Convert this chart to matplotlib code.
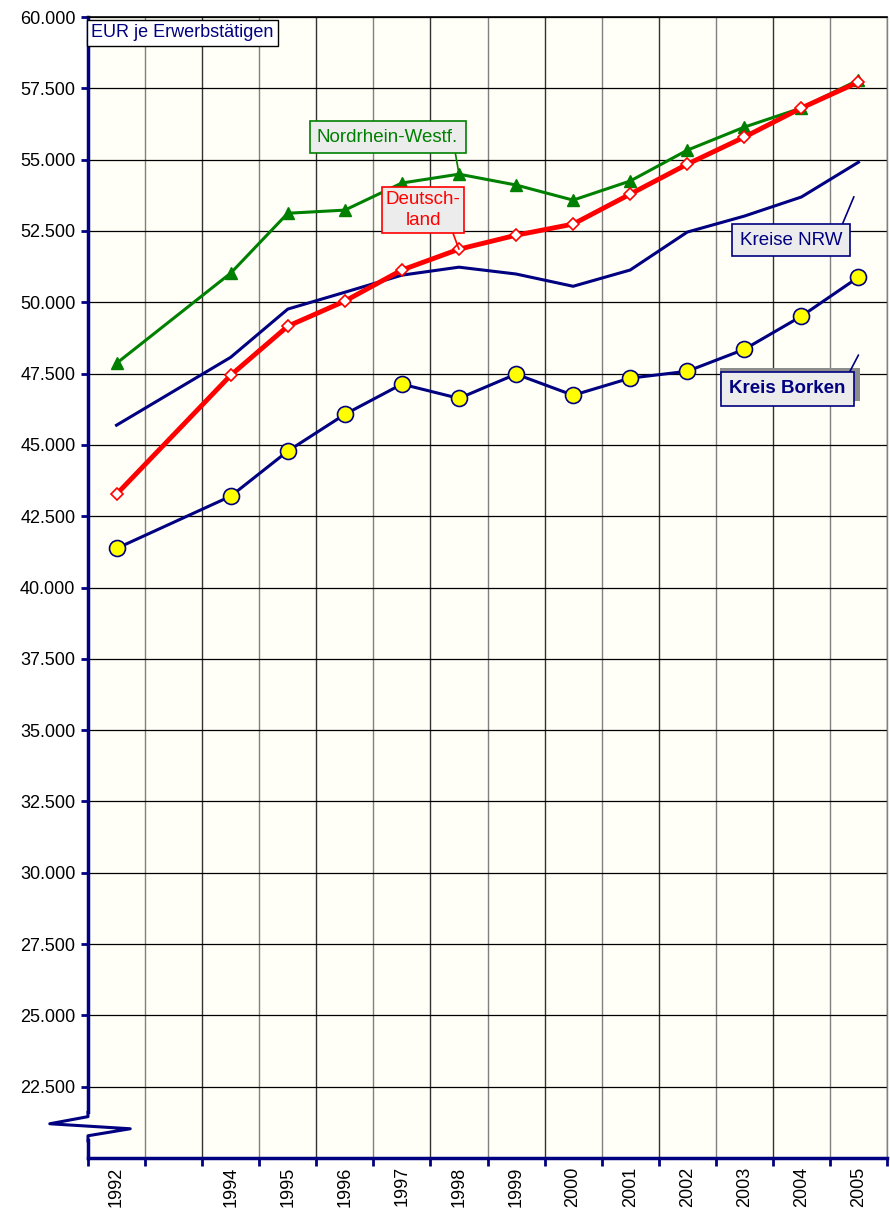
import matplotlib
matplotlib.use("Agg")
import matplotlib.pyplot as plt
from matplotlib.lines import Line2D
from matplotlib.patches import Rectangle

plt.rcParams['font.family'] = ['Liberation Sans', 'DejaVu Sans']

years = [1992, 1994, 1995, 1996, 1997, 1998, 1999, 2000, 2001, 2002, 2003, 2004, 2005]
nrw = [47860, 51020, 53120, 53230, 54180, 54490, 54110, 53580, 54250, 55330, 56140, 56810, 57790]
deutschland = [43270, 47440, 49160, 50040, 51130, 51860, 52350, 52740, 53790, 54840, 55790, 56810, 57720]
kreise_nrw = [45690, 48070, 49760, 50350, 50950, 51230, 50990, 50560, 51130, 52460, 53020, 53690, 54910]
borken = [41370, 43200, 44780, 46070, 47130, 46630, 47480, 46740, 47340, 47580, 48350, 49510, 50880]
y_ticks = [22500, 25000, 27500, 30000, 32500, 35000, 37500, 40000, 42500, 45000, 47500, 50000, 52500, 55000, 57500, 60000]
tick_years = [1992, 1994, 1995, 1996, 1997, 1998, 1999, 2000, 2001, 2002, 2003, 2004, 2005]

W, H = 890, 1213
fig = plt.figure(figsize=(W/100, H/100), dpi=100)
ax = fig.add_axes([88/W, 1-1158/H, (887-88)/W, (1158-17)/H])
bg = '#fffff7'
ax.set_facecolor(bg)
ax.set_xlim(1991.5, 2005.5)
ax.set_ylim(20000, 60000)

navy = '#000080'
# grid
for i, xv in enumerate(range(1992, 2006)):
    ax.axvline(xv + 0.5, color='#333333' if i % 2 else '#808080', lw=1.0, zorder=1)
for yv in y_ticks:
    ax.axhline(yv, color='black', lw=0.9, zorder=1)

ax.plot(years, kreise_nrw, color=navy, lw=2.2, zorder=3)
ax.plot(years, nrw, color='#008000', lw=2.2, marker='^', ms=9, mfc='#008000', mec='#008000', zorder=4)
ax.plot(years, deutschland, color='#ff0000', lw=3.5, marker='D', ms=6, mfc='white', mec='#ff0000', mew=1.2, zorder=5)
ax.plot(years, borken, color=navy, lw=2.2, marker='o', ms=11.5, mfc='#ffff00', mec=navy, mew=1.2, zorder=6)

ax.set_yticks(y_ticks)
ax.set_yticklabels([f"{v/1000:.3f}" for v in y_ticks], fontsize=13)
ax.set_xticks(tick_years)
ax.set_xticklabels([str(y) for y in tick_years], rotation=90, fontsize=13)
ax.set_xticks([x + 0.5 for x in range(1991, 2006)], minor=True)
ax.tick_params(axis='x', which='major', length=0, pad=6)
ax.tick_params(axis='x', which='minor', length=6, width=2, color=navy, direction='out')
ax.tick_params(axis='y', length=5, width=2, color=navy, direction='out', pad=4)

for s in ['left', 'bottom']:
    ax.spines[s].set_color(navy)
    ax.spines[s].set_linewidth(2.5)
ax.spines['top'].set_color('black')
ax.spines['top'].set_linewidth(1.2)
ax.spines['right'].set_color('#808080')
ax.spines['right'].set_linewidth(1.0)

# axis break mark
bx = [1991.5, 1991.5, 1990.83, 1992.24, 1991.5, 1991.5]
by = [21600, 21450, 21200, 21025, 20780, 20600]
ax.add_line(Line2D([1991.5, 1991.5], [20800, 21430], color=bg, lw=5, clip_on=False, zorder=10))
ax.add_line(Line2D(bx, by, color=navy, lw=2.2, clip_on=False, zorder=11))

# title box
ax.text(1991.56, 59740, 'EUR je Erwerbstätigen', color=navy, fontsize=13, va='top', ha='left',
        bbox=dict(boxstyle='square,pad=0.25', fc='white', ec='black', lw=1), zorder=12)

# callouts
ax.annotate('Nordrhein-Westf.', xy=(1998, 54500), xytext=(1996.75, 55790), color='#008000', fontsize=13.5,
            ha='center', va='center',
            bbox=dict(boxstyle='square,pad=0.4', fc='#ececec', ec='#008000', lw=1.2),
            arrowprops=dict(arrowstyle='-', color='#008000', lw=1.2, shrinkA=0, shrinkB=0,
                            relpos=(0.97, 0.0)), zorder=12)
ax.annotate('Deutsch-\nland', xy=(1998, 51860), xytext=(1997.37, 53230), color='#ff0000', fontsize=13.5,
            ha='center', va='center', linespacing=1.3,
            bbox=dict(boxstyle='square,pad=0.2', fc='#ececec', ec='#ff0000', lw=1.2),
            arrowprops=dict(arrowstyle='-', color='#ff0000', lw=1.2, shrinkA=0, shrinkB=0,
                            relpos=(0.88, 0.0)), zorder=12)
ax.annotate('Kreise NRW', xy=(2004.92, 53700), xytext=(2003.82, 52180), color=navy, fontsize=13.5,
            ha='center', va='center',
            bbox=dict(boxstyle='square,pad=0.4', fc='#ececec', ec=navy, lw=1.2),
            arrowprops=dict(arrowstyle='-', color=navy, lw=1.2, shrinkA=0, shrinkB=0,
                            relpos=(0.97, 1.0)), zorder=12)
# shadow for Kreis Borken
ax.add_patch(Rectangle((2002.57, 46530), 2.46, 1160, fc='#8c8c8c', ec='none', zorder=11))
ax.annotate('Kreis Borken', xy=(2005.0, 48150), xytext=(2003.75, 46970), color=navy, fontsize=13.5,
            fontweight='bold', ha='center', va='center',
            bbox=dict(boxstyle='square,pad=0.45', fc='#ececec', ec=navy, lw=1.2),
            arrowprops=dict(arrowstyle='-', color=navy, lw=1.2, shrinkA=0, shrinkB=0,
                            relpos=(1.0, 1.0)), zorder=12)

fig.savefig('out.png', dpi=100)
